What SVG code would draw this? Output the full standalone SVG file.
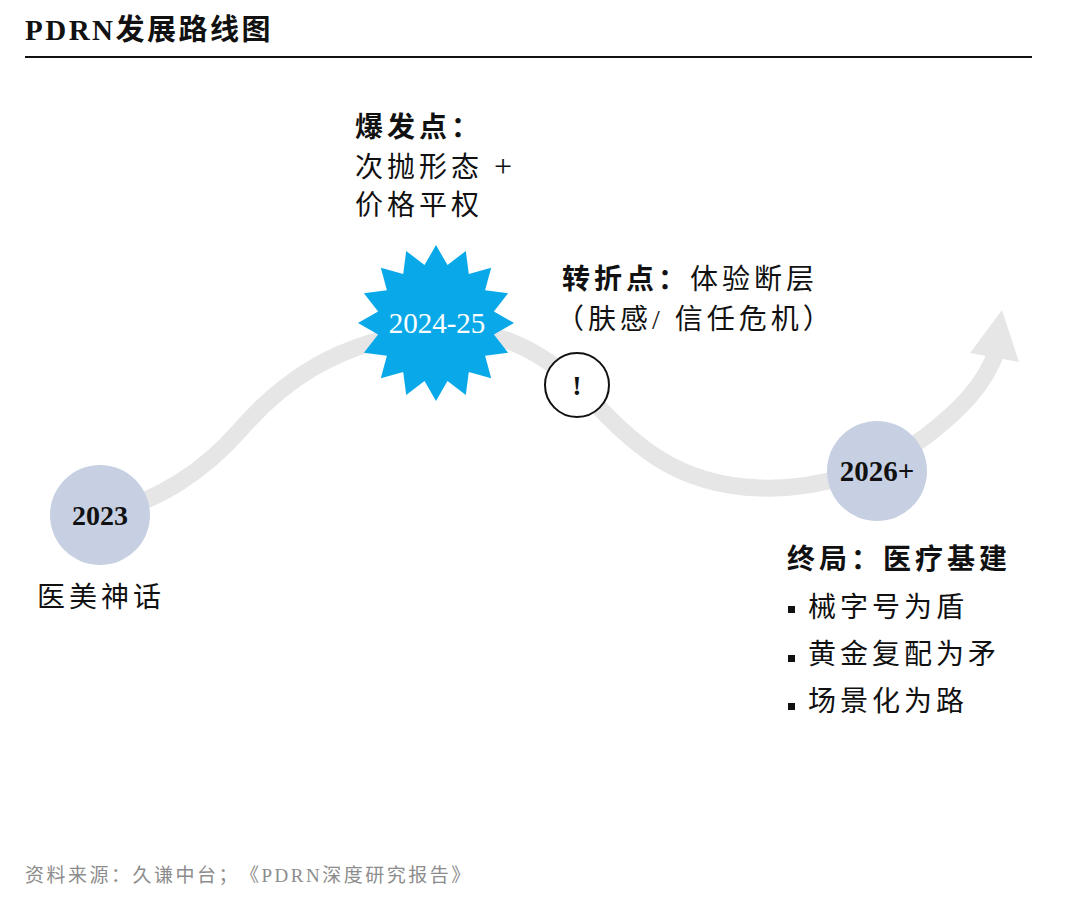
<svg xmlns="http://www.w3.org/2000/svg" width="1080" height="901" viewBox="0 0 1080 901">
<style>
text{text-spacing-trim:space-all}
.cjk{font-family:"Liberation Serif","Noto Sans CJK SC",serif;font-size:28px;fill:#111;letter-spacing:4px}
.b{font-weight:bold}
.yr{font-family:"Liberation Serif",serif;font-size:28px;font-weight:bold;fill:#111;text-anchor:middle}
.node{fill:#c6d0e2}
.foot{font-family:"Liberation Serif","Noto Sans CJK SC",serif;font-size:19px;fill:#8c8c8c;letter-spacing:2.5px}
</style>
<rect width="1080" height="901" fill="#fff"/>
<g id="title">
<text x="25" y="40" class="cjk b" style="font-size:29px;letter-spacing:2.5px">PDRN发展路线图</text>
<line x1="25" y1="57" x2="1032" y2="57" stroke="#111" stroke-width="2"/>
</g>
<g id="connectors">
<path d="M110,512 C160,500 205,470 240,430 C275,390 330,340 437,330 C500,326 545,355 577,385 C630,440 670,485 760,488 C820,490 880,470 925,437 C960,410 985,385 997,350" fill="none" stroke="#e6e6e6" stroke-width="17"/>
<polygon points="1002,310 970,353 1019,362" fill="#e6e6e6"/>
</g>
<g id="node-2023">
<circle cx="100" cy="515" r="50" class="node"/>
<text x="100" y="525" class="yr">2023</text>
<text x="37" y="607" class="cjk">医美神话</text>
</g>
<g id="node-2024-25">
<polygon fill="#09a9e9" points="436,245 447.5,265.1 465.8,250.9 468.8,273.9 491.2,267.8 485.1,290.2 508.1,293.2 493.9,311.5 514,323 493.9,334.5 508.1,352.8 485.1,355.8 491.2,378.2 468.8,372.1 465.8,395.1 447.5,380.9 436,401 424.5,380.9 406.2,395.1 403.2,372.1 380.8,378.2 386.9,355.8 363.9,352.8 378.1,334.5 358,323 378.1,311.5 363.9,293.2 386.9,290.2 380.8,267.8 403.2,273.9 406.2,250.9 424.5,265.1"/>
<text x="437" y="333" style="font-family:'Liberation Serif',serif;font-size:29px;fill:#fff;text-anchor:middle">2024-25</text>
<text x="355" y="137" class="cjk b">爆发点：</text>
<text x="355" y="177" class="cjk">次抛形态 <tspan style="font-size:32px">+</tspan></text>
<text x="355" y="215" class="cjk">价格平权</text>
</g>
<g id="node-turning">
<circle cx="577" cy="385" r="32" fill="#fff" stroke="#111" stroke-width="2"/>
<text x="577" y="395" class="yr">!</text>
<text x="562" y="289" class="cjk"><tspan class="b">转折点：</tspan>体验断层</text>
<text x="556" y="329" class="cjk">（肤感/ 信任危机）</text>
</g>
<g id="node-2026">
<circle cx="877" cy="471" r="50" class="node"/>
<text x="877" y="481" class="yr" style="font-size:29px">2026+</text>
<text x="787" y="569" class="cjk b">终局：医疗基建</text>
<rect x="788" y="606" width="7" height="7" fill="#111"/>
<text x="808" y="617" class="cjk">械字号为盾</text>
<rect x="788" y="655" width="7" height="7" fill="#111"/>
<text x="808" y="664" class="cjk">黄金复配为矛</text>
<rect x="788" y="703" width="7" height="7" fill="#111"/>
<text x="808" y="711" class="cjk">场景化为路</text>
</g>
<g id="footer">
<text x="25" y="882" class="foot">资料来源：久谦中台；《PDRN深度研究报告》</text>
</g>
</svg>
